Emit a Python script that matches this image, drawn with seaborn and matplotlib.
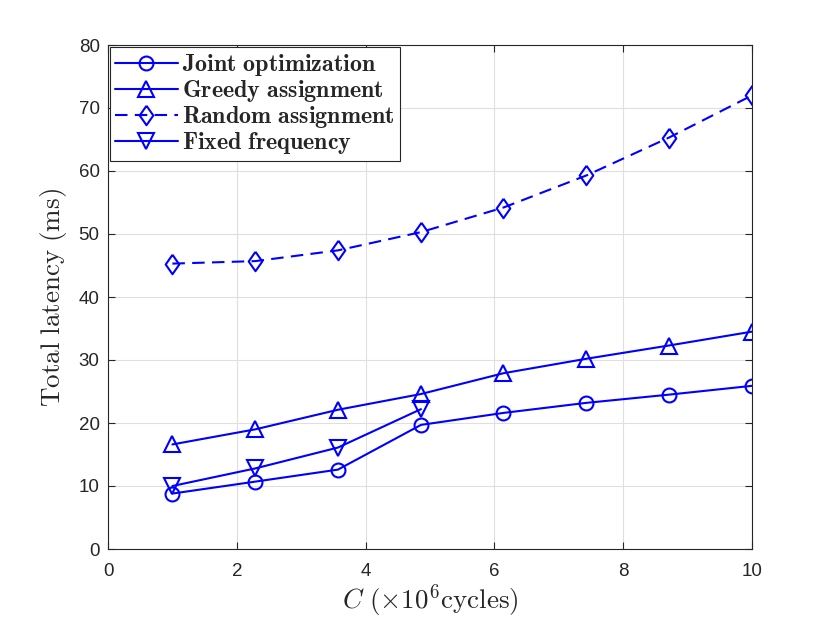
import numpy as np
import pandas as pd
import matplotlib
matplotlib.use("Agg")
import matplotlib.pyplot as plt
import seaborn as sns

x_vals = [1.0, 2.29, 3.57, 4.86, 6.14, 7.43, 8.71, 10.0]
joint = [8.8, 10.7, 12.6, 19.7, 21.6, 23.2, 24.5, 25.9]
greedy = [16.6, 19.0, 22.1, 24.6, 27.9, 30.2, 32.3, 34.5]
random_assign = [45.3, 45.7, 47.4, 50.3, 54.2, 59.3, 65.3, 72.0]
fixed_x = [1.0, 2.29, 3.57, 4.86]
fixed = [10.0, 12.8, 16.1, 22.2]

labels = ["Joint optimization", "Greedy assignment", "Random assignment", "Fixed frequency"]
x_ticks = [0, 2, 4, 6, 8, 10]
y_ticks = [0, 10, 20, 30, 40, 50, 60, 70, 80]

sns.set_theme(style="ticks")
plt.rcParams['font.family'] = ['Liberation Sans', 'DejaVu Sans']
plt.rcParams['mathtext.fontset'] = 'cm'

fig = plt.figure(figsize=(8.3, 6.23), dpi=100)
ax = fig.add_axes([108/830, 1-549/623, (752-108)/830, (549-45)/623])

blue = (0, 0, 1)
common = dict(color=blue, linewidth=1.5, markerfacecolor='none',
              markeredgecolor=blue, markeredgewidth=1.5, ax=ax)

diamond = [(0, 1), (0.7, 0), (0, -1), (-0.7, 0), (0, 1)]

def tolabel(s):
    return r'$\mathbf{' + s.replace(' ', r'\ ') + '}$'

sns.lineplot(x=x_vals, y=joint, marker='o', markersize=10, label=tolabel(labels[0]), **common)
sns.lineplot(x=x_vals, y=greedy, marker='^', markersize=11, label=tolabel(labels[1]), **common)
sns.lineplot(x=x_vals, y=random_assign, marker=diamond, markersize=14, label=tolabel(labels[2]),
             linestyle=(0, (6, 3.5)), **common)
sns.lineplot(x=fixed_x, y=fixed, marker='v', markersize=11, label=tolabel(labels[3]), **common)

ax.set_xlim(0, 10)
ax.set_ylim(0, 80)
ax.set_xticks(x_ticks)
ax.set_yticks(y_ticks)
ax.tick_params(direction='in', length=5, width=0.8, labelsize=13.5, colors='#262626',
               top=True, right=True, labelcolor='#262626', pad=6)
ax.tick_params(axis='x', pad=10)
ax.grid(True, color='#dfdfdf', linewidth=0.8)
ax.set_axisbelow(True)
for s in ax.spines.values():
    s.set_color('#262626')
    s.set_linewidth(0.8)

ax.set_xlabel(r'$C\ (\times 10^6\mathrm{cycles})$', fontsize=19.5, color='#262626', labelpad=2)
ax.set_ylabel(r'$\mathrm{Total\ latency\ (ms)}$', fontsize=19.5, color='#262626', labelpad=7)

leg = ax.legend(loc='upper left', fontsize=17.3, frameon=True, fancybox=False,
                edgecolor='#262626', framealpha=1, borderaxespad=0.1,
                handlelength=2.6, labelspacing=0.0, borderpad=0.2, handletextpad=0.2)
leg.get_frame().set_linewidth(0.8)

fig.savefig("out.png", dpi=100)
